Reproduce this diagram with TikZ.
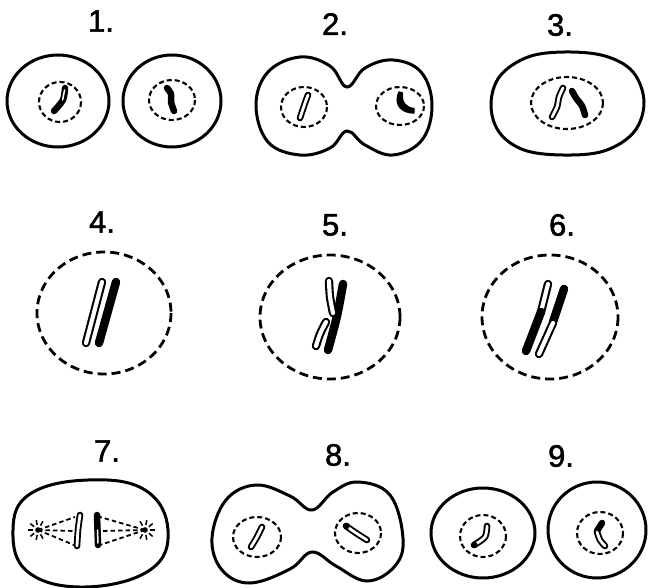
\documentclass[tikz,border=0pt]{standalone}
\usepackage{fontspec}
\usetikzlibrary{calc}
\newfontfamily\labelfont[FakeBold=1.6]{Liberation Sans}
\begin{document}
\begin{tikzpicture}[x=1pt,y=-1pt,
  cell/.style={line width=3pt},
  nucleus/.style={line width=2.1pt, dash pattern=on 5pt off 3pt},
  envelope/.style={line width=2.8pt, dash pattern=on 9pt off 5pt},
  fibre/.style={line width=1.8pt, dash pattern=on 4.5pt off 3pt},
  solidchrom/.style={line width=6.5pt, line cap=round, line join=round},
  hollowchrom/.style={line width=1.9pt, double=white, double distance=2.8pt, line cap=round, line join=round},
  bigsolid/.style={line width=8.5pt, line cap=round},
  bighollow/.style={line width=2.1pt, double=white, double distance=4.2pt, line cap=round},
  steplabel/.style={font=\labelfont\fontsize{31}{31}\selectfont, inner sep=0pt},
  ray/.style={line width=1.5pt}
]
\useasboundingbox (0,0) rectangle (648,588);

% ---------- 1: two daughter cells ----------
\node[steplabel] (l1) at (101,21) {1.};
\draw[cell] (58,101) ellipse [x radius=51, y radius=46];
\draw[nucleus] (60,102) ellipse [x radius=21, y radius=20];
\draw[solidchrom] plot[smooth] coordinates {(65,88) (63,100) (54,111)};
\draw[white, line width=1.5pt, line cap=round] plot[smooth] coordinates {(64.6,90) (62.6,100)};
\draw[cell] (172,101) ellipse [x radius=49, y radius=46];
\draw[nucleus] (172,100) ellipse [x radius=23, y radius=20];
\draw[solidchrom] plot[smooth] coordinates {(167,88) (171,94) (171,102) (174,111)};

% ---------- 2: cell dividing ----------
\node[steplabel] (l2) at (335,24) {2.};
\draw[cell] plot[smooth cycle, tension=0.65] coordinates {
  (256,105) (268,72) (300,57) (330,66) (347,87) (365,68) (393,60) (421,72) (432,105)
  (422,140) (393,155) (365,145) (347,131) (330,148) (300,155) (268,142)};
\draw[nucleus] (304,107) ellipse [x radius=23, y radius=20];
\draw[hollowchrom] plot[smooth] coordinates {(308,95) (305,103) (303,109) (300,118)};
\draw[nucleus] (400,106) ellipse [x radius=24, y radius=19];
\fill[line width=1.4pt, draw, line join=round] (399,92) .. controls (393,106) and (403,113) .. (414,113)
  -- (414,108.5) .. controls (406,108) and (401,102) .. (402.5,93) -- cycle;

% ---------- 3: fused cell, two chromosomes ----------
\node[steplabel] (l3) at (560,25) {3.};
\draw[cell] plot[smooth cycle, tension=0.6] coordinates {
  (491,104) (500,76) (528,57) (565,52) (605,56) (633,72) (644,102)
  (634,132) (604,151) (563,155) (524,150) (499,132)};
\draw[nucleus] (567,103) ellipse [x radius=36, y radius=26];
\draw[hollowchrom] plot[smooth] coordinates {(563,88) (559,97) (557,107) (552,117)};
\draw[solidchrom] plot[smooth] coordinates {(572,91) (576,98) (582,106) (585,115)};

% ---------- 4 ----------
\node[steplabel] (l4) at (102,222) {4.};
\draw[envelope] (104,313) ellipse [x radius=67, y radius=61];
\draw[bighollow] (102,282) -- (86,343);
\draw[bigsolid] (116,282) -- (99,343);

% ---------- 5 ----------
\node[steplabel] (l5) at (335,225) {5.};
\draw[envelope] (330,317) ellipse [x radius=70, y radius=62];
\draw[bigsolid] plot[smooth] coordinates {(343,284) (337,316) (328,350)};
\draw[bighollow] plot[smooth] coordinates {(329,281) (330,297) (333,313)};
\draw[bighollow] plot[smooth] coordinates {(326,322) (320,334) (316,346)};

% ---------- 6 ----------
\node[steplabel] (l6) at (562,225) {6.};
\draw[envelope] (550,317) ellipse [x radius=68, y radius=62];
\draw[bighollow] (548,284) -- (541,312);
\draw[bigsolid] (541,312) -- (526,351);
\draw[bigsolid] (564,289) -- (553,322);
\draw[bighollow] (553,323) -- (539,354);

% ---------- 7: spindle ----------
\node[steplabel] (l7) at (107,451) {7.};
\draw[cell] plot[smooth cycle, tension=0.7] coordinates {
  (13,530) (30,494) (88,480) (145,490) (168,530) (150,570) (85,587) (28,572)};
\coordinate (p7l) at (38,530);
\coordinate (p7r) at (145,530);
\coordinate (r7lt) at (75,517);
\coordinate (r7lm) at (75,531);
\coordinate (r7lb) at (74,545);
\coordinate (r7rt) at (100,517);
\coordinate (r7rm) at (100,531);
\coordinate (r7rb) at (100,545);
\foreach \e in {r7lt,r7lm,r7lb} \draw[fibre] (p7l) -- (\e);
\foreach \e in {r7rt,r7rm,r7rb} \draw[fibre] (p7r) -- (\e);
\fill (p7l) circle (2.8pt);
\fill (p7r) circle (2.8pt);
\foreach \a in {100,140,180,220,260,60,300} \draw[ray] ($(p7l)+(\a:5)$) -- ($(p7l)+(\a:10)$);
\foreach \a in {80,40,0,-40,-80,120,240} \draw[ray] ($(p7r)+(\a:5)$) -- ($(p7r)+(\a:10)$);
\draw[hollowchrom] plot[smooth] coordinates {(80,515) (78,530) (77,546)};
\draw[solidchrom] (97,515) -- (98,545);
\draw[white, line width=1.5pt, line cap=round] (97.6,530) -- (97.9,543);

% ---------- 8: second division ----------
\node[steplabel] (l8) at (338,455) {8.};
\draw[cell] plot[smooth cycle, tension=0.65] coordinates {
  (212,538) (226,500) (256,485) (290,496) (312,510) (333,492) (358,482) (390,495) (403,538)
  (395,566) (367,581) (336,566) (312,552) (290,569) (250,583) (222,570)};
\draw[nucleus] (257,537) ellipse [x radius=24, y radius=20];
\draw[hollowchrom] plot[smooth] coordinates {(262,527) (257,537) (251,547)};
\draw[nucleus] (358,533) ellipse [x radius=23, y radius=20];
\draw[hollowchrom] plot[smooth] coordinates {(346,526) (356,533) (367,540)};
\fill (346.5,526) circle (3.2pt);

% ---------- 9: daughter cells ----------
\node[steplabel] (l9) at (561,456) {9.};
\draw[cell] (483,533) ellipse [x radius=52, y radius=45];
\draw[nucleus] (483,536) ellipse [x radius=23, y radius=21];
\draw[hollowchrom] plot[smooth] coordinates {(487,526) (485,537) (474,545)};
\fill (474.5,545) circle (3.2pt);
\draw[cell] (597,530) ellipse [x radius=49, y radius=48];
\draw[nucleus] (600,533) ellipse [x radius=23, y radius=21];
\draw[solidchrom] plot[smooth] coordinates {(602,523) (597,531)};
\draw[hollowchrom] plot[smooth] coordinates {(597,532) (600,540) (605,546)};
\end{tikzpicture}
\end{document}
